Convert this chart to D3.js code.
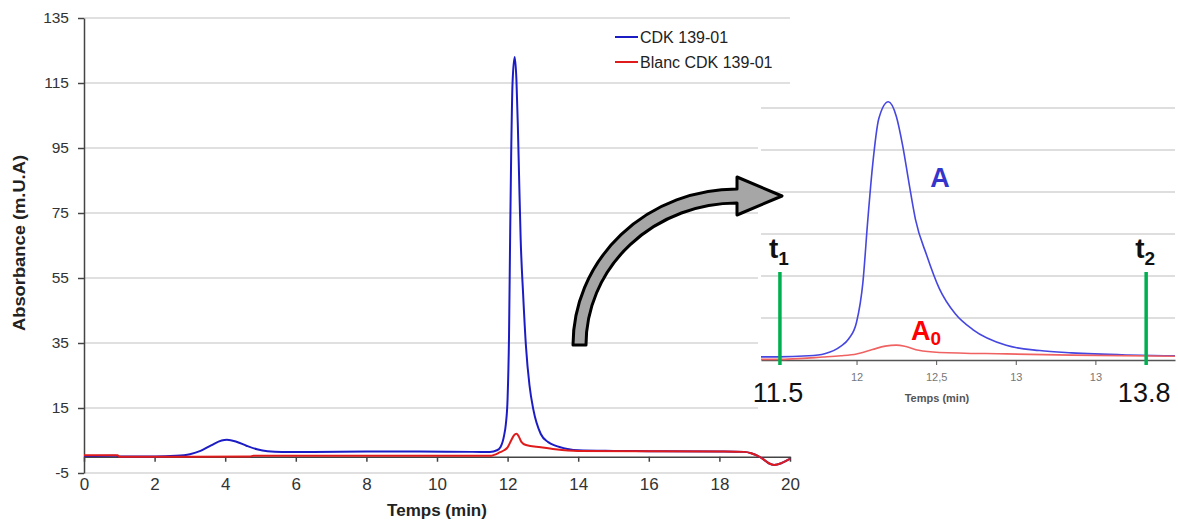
<!DOCTYPE html>
<html lang="fr">
<head>
  <meta charset="utf-8">
  <title>CDK 139-01</title>
  <script src="https://cdnjs.cloudflare.com/ajax/libs/d3/7.8.5/d3.min.js"></script>
  <style>
    body { margin: 0; background: #fff; }
    svg { display: block; font-family: "Liberation Sans", Arial, sans-serif; }
  </style>
</head>
<body>
<div id="chart"></div>
<script>
// ---- data ----
const blueT = [0, 0.9, 1.0, 2.0, 2.6, 3.0, 3.3, 3.6, 3.9, 4.05, 4.3, 4.6, 4.9, 5.2, 5.6, 6.5, 8.0, 9.5, 11.0, 11.5,
  11.7, 11.8, 11.9, 11.95, 12.0, 12.04, 12.07, 12.1, 12.14, 12.2, 12.25, 12.29, 12.33, 12.37, 12.44, 12.52,
  12.62, 12.73, 12.94, 13.15, 13.35, 13.7, 14.0, 15.0, 16.0, 18.0, 18.7, 18.9, 19.1, 19.25, 19.4, 19.55, 19.75, 19.9, 20.0];
const blueV = [0.2, 0.3, 0.1, 0.1, 0.3, 0.8, 1.8, 3.5, 5.0, 5.2, 4.7, 3.4, 2.3, 1.7, 1.5, 1.5, 1.6, 1.6, 1.5, 1.5,
  2.0, 3.0, 6.5, 10, 18, 37, 66, 92, 115, 123, 116, 102, 84, 67, 50, 34,
  22, 14.5, 7, 4.5, 3.4, 2.4, 2.0, 1.8, 1.7, 1.6, 1.5, 1.1, 0.2, -0.8, -2.0, -2.5, -2.0, -1.2, -0.6];

const redT = [0, 0.95, 1.0, 3.0, 4.7, 4.8, 8.0, 11.5, 11.79, 11.9, 12.0, 12.1, 12.18, 12.25, 12.31, 12.39, 12.52,
  12.94, 13.35, 14.0, 16.0, 18.0, 18.7, 18.9, 19.1, 19.25, 19.4, 19.55, 19.75, 19.9, 20.0];
const redV = [0.5, 0.5, 0.0, 0.0, 0.1, 0.3, 0.3, 0.3, 1.4, 2.0, 2.9, 5.0, 6.6, 7.1, 6.4, 4.6, 3.6,
  2.9, 2.3, 1.8, 1.7, 1.6, 1.5, 1.1, 0.2, -0.8, -2.0, -2.5, -2.0, -1.2, -0.6];

const seriesNames = ['CDK 139-01', 'Blanc CDK 139-01'];
const yTicks = [-5, 15, 35, 55, 75, 95, 115, 135];
const xTicks = [0, 2, 4, 6, 8, 10, 12, 14, 16, 18, 20];

const insetTicks = [12, 12.5, 13, 13.5];
const insetTickLabels = ['12', '12,5', '13', '13'];
const insetGrid = [20, 40, 60, 80, 100, 120];
const marks = [11.5, 13.8];

const svg = d3.select('#chart').append('svg')
  .attr('width', 1178)
  .attr('height', 520);

// ---- main chart ----
const x = d3.scaleLinear().domain([0, 20]).range([84, 790]);
const y = d3.scaleLinear().domain([-5, 135]).range([473, 18]);

svg.append('g').selectAll('line')
  .data(yTicks)
  .enter().append('line')
  .attr('x1', x(0)).attr('x2', x(20))
  .attr('y1', d => y(d)).attr('y2', d => y(d))
  .attr('stroke', '#d6d6d6')
  .attr('stroke-width', 1.5);

const yAxis = svg.append('g')
  .attr('transform', `translate(${x(0)},0)`)
  .call(d3.axisLeft(y).tickValues(yTicks).tickFormat(d => String(d))
    .tickSize(6).tickPadding(9).tickSizeOuter(0));
yAxis.select('.domain').attr('stroke', '#444').attr('stroke-width', 1.5);
yAxis.selectAll('.tick line').attr('stroke', '#444').attr('stroke-width', 1.5);
yAxis.selectAll('text').attr('font-size', 15.5).attr('fill', '#333').attr('font-family', 'Liberation Sans, Arial');

const xAxis = svg.append('g')
  .attr('transform', `translate(0,${y(0)})`)
  .call(d3.axisBottom(x).tickValues(xTicks).tickSize(5).tickPadding(16).tickSizeOuter(0));
xAxis.select('.domain').attr('stroke', '#444').attr('stroke-width', 1.5);
xAxis.selectAll('.tick line').attr('stroke', '#444').attr('stroke-width', 1.5);
xAxis.selectAll('text').attr('font-size', 17).attr('fill', '#333').attr('font-family', 'Liberation Sans, Arial');

const line = d3.line()
  .x(d => x(d[0]))
  .y(d => y(d[1]))
  .curve(d3.curveMonotoneX);

svg.append('path')
  .datum(d3.zip(blueT, blueV))
  .attr('d', line)
  .attr('fill', 'none')
  .attr('stroke', '#1c1cc4')
  .attr('stroke-width', 2);

svg.append('path')
  .datum(d3.zip(redT, redV))
  .attr('d', line)
  .attr('fill', 'none')
  .attr('stroke', '#e01b1b')
  .attr('stroke-width', 2);

// legend
const legend = svg.append('g');
[['#1c1cc4', 37], ['#e01b1b', 62]].forEach((c, i) => {
  legend.append('line')
    .attr('x1', 615).attr('x2', 638)
    .attr('y1', c[1]).attr('y2', c[1])
    .attr('stroke', c[0]).attr('stroke-width', 2);
  legend.append('text')
    .attr('x', 640).attr('y', c[1] + 6)
    .attr('font-size', 16)
    .attr('fill', '#222')
    .text(seriesNames[i]);
});

svg.append('text')
  .attr('transform', 'translate(25,243) rotate(-90)')
  .attr('text-anchor', 'middle')
  .attr('font-size', 16)
  .attr('font-weight', 'bold')
  .attr('fill', '#222')
  .attr('textLength', 176)
  .attr('lengthAdjust', 'spacingAndGlyphs')
  .text('Absorbance (m.U.A)');

svg.append('text')
  .attr('x', 437).attr('y', 516)
  .attr('text-anchor', 'middle')
  .attr('font-size', 17)
  .attr('font-weight', 'bold')
  .attr('fill', '#222')
  .text('Temps (min)');

// ---- inset (zoom on the peak) ----
const xi = d3.scaleLinear().domain([11.4, 14]).range([761, 1175]);
const yi = d3.scaleLinear().domain([0, 125]).range([360, 97.5]);

svg.append('rect')
  .attr('x', 758).attr('y', 92)
  .attr('width', 420).attr('height', 318)
  .attr('fill', '#fff');

svg.append('g').selectAll('line')
  .data(insetGrid)
  .enter().append('line')
  .attr('x1', xi(11.4)).attr('x2', xi(14))
  .attr('y1', d => yi(d)).attr('y2', d => yi(d))
  .attr('stroke', '#dedede')
  .attr('stroke-width', 2);

const xiAxis = svg.append('g')
  .attr('transform', `translate(0,${yi(0)})`)
  .call(d3.axisBottom(xi).tickValues(insetTicks)
    .tickFormat((d, i) => insetTickLabels[i])
    .tickSize(5).tickPadding(8).tickSizeOuter(0));
xiAxis.select('.domain').attr('stroke', '#555').attr('stroke-width', 1.5);
xiAxis.selectAll('.tick line').attr('stroke', '#555');
xiAxis.selectAll('text').attr('font-size', 11).attr('fill', '#777').attr('font-family', 'Liberation Sans, Arial');

svg.append('text')
  .attr('x', 937).attr('y', 402)
  .attr('text-anchor', 'middle')
  .attr('font-size', 11)
  .attr('font-weight', 'bold')
  .attr('fill', '#555')
  .text('Temps (min)');

svg.append('clipPath').attr('id', 'insetClip')
  .append('rect')
  .attr('x', 761).attr('y', 90)
  .attr('width', 414).attr('height', 272);

const lineI = d3.line()
  .x(d => xi(d[0]))
  .y(d => yi(d[1]))
  .curve(d3.curveMonotoneX);

const insetG = svg.append('g').attr('clip-path', 'url(#insetClip)');
insetG.append('path')
  .datum(d3.zip(blueT, blueV))
  .attr('d', lineI)
  .attr('fill', 'none')
  .attr('stroke', '#4646e0')
  .attr('stroke-width', 1.6);
insetG.append('path')
  .datum(d3.zip(redT, redV))
  .attr('d', lineI)
  .attr('fill', 'none')
  .attr('stroke', '#f06262')
  .attr('stroke-width', 1.6);

// integration limits
svg.append('g').selectAll('line')
  .data(marks)
  .enter().append('line')
  .attr('x1', d => xi(d) + 3).attr('x2', d => xi(d) + 3)
  .attr('y1', 272).attr('y2', 365)
  .attr('stroke', '#00b050')
  .attr('stroke-width', 3.5);

svg.append('g').selectAll('text')
  .data(marks)
  .enter().append('text')
  .attr('x', d => xi(d) + 1)
  .attr('y', 402)
  .attr('text-anchor', 'middle')
  .attr('font-size', 27)
  .attr('fill', '#111')
  .text(d => d.toFixed(1));

['1', '2'].forEach((s, i) => {
  const t = svg.append('text')
    .attr('x', xi(marks[i]) - 8)
    .attr('y', 258)
    .attr('font-size', 28)
    .attr('font-weight', 'bold')
    .attr('fill', '#111')
    .text('t');
  t.append('tspan').attr('font-size', 19).attr('dy', 7).text(s);
});

svg.append('text')
  .attr('x', 940).attr('y', 187)
  .attr('text-anchor', 'middle')
  .attr('font-size', 27)
  .attr('font-weight', 'bold')
  .attr('fill', '#3535cc')
  .text('A');

const a0 = svg.append('text')
  .attr('x', 911).attr('y', 340)
  .attr('font-size', 27)
  .attr('font-weight', 'bold')
  .attr('fill', '#ff0000')
  .text('A');
a0.append('tspan').attr('font-size', 19).attr('dy', 5).text('0');

// ---- curved arrow ----
svg.append('path')
  .attr('d', 'M573,345 A164,156 0 0 1 737,189 L737,177 L782,196 L737,215 L737,203 A151,142 0 0 0 586,345 Z')
  .attr('fill', '#a6a6a6')
  .attr('stroke', '#000')
  .attr('stroke-width', 3)
  .attr('stroke-linejoin', 'round');
</script>
</body>
</html>
